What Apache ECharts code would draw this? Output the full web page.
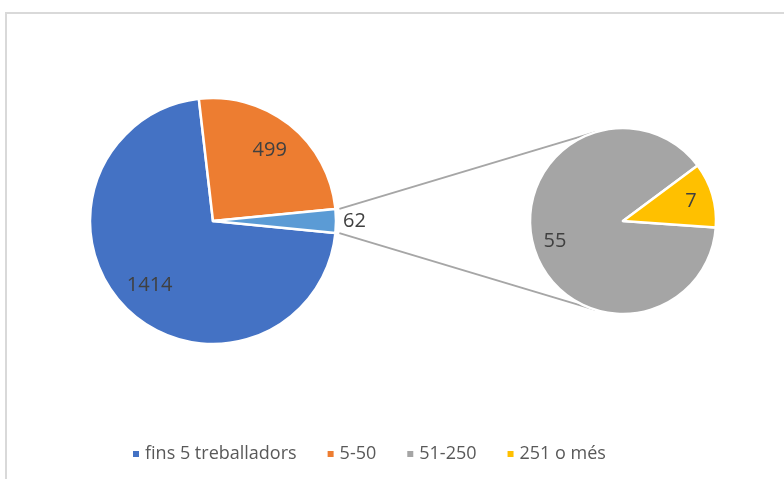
<!DOCTYPE html>
<html>
<head>
<meta charset="utf-8">
<script src="https://cdn.jsdelivr.net/npm/echarts@6/dist/echarts.min.js"></script>
<style>
  html, body { margin: 0; padding: 0; background: #fff; }
  #chart { width: 784px; height: 479px; }
</style>
</head>
<body>
<div id="chart"></div>
<script>
// main pie: the last slice is the one broken out into the small pie
var mainNames = ['fins 5 treballadors', '5-50', 'Altres'];
var mainValues = [1414, 499, 62];
var mainColors = ['#4472c4', '#ed7d31', '#5b9bd5'];

var subNames = ['51-250', '251 o més'];
var subValues = [55, 7];
var subColors = ['#a5a5a5', '#ffc000'];

var legendNames = ['fins 5 treballadors', '5-50', '51-250', '251 o més'];

var font = 'Open Sans';
var labelColor = '#404040';

// layout (px)
var mainC = [213, 221], mainR = 123;
var subC = [623, 221], subR = 93;

var total = mainValues.reduce(function(a, b) { return a + b; }, 0);
var otherDeg = mainValues[mainValues.length - 1] / total * 360;
var mainStart = -otherDeg / 2;   // centre the "other" slice on 3 o'clock

function makeData(names, values, colors) {
  return names.map(function(n, i) {
    return { name: n, value: values[i], itemStyle: { color: colors[i] } };
  });
}

function labelData(names, values, hideLast) {
  return names.map(function(n, i) {
    var d = { name: n, value: values[i] };
    if (hideLast && i === names.length - 1) d.label = { show: false };
    return d;
  });
}

// connector lines: from the edges of the "other" slice, tangent to the small pie
function tangent(p, c, r, up) {
  var dx = p[0] - c[0], dy = p[1] - c[1];
  var d = Math.sqrt(dx * dx + dy * dy);
  var base = Math.atan2(dy, dx);
  var a = Math.acos(r / d);
  var ang = up ? base + a : base - a;
  return [c[0] + r * Math.cos(ang), c[1] + r * Math.sin(ang)];
}
var half = otherDeg / 2 * Math.PI / 180;
var pTop = [mainC[0] + mainR * Math.cos(half) + 4, mainC[1] - mainR * Math.sin(half)];
var pBot = [mainC[0] + mainR * Math.cos(half) + 4, mainC[1] + mainR * Math.sin(half)];
var tTop = tangent(pTop, subC, subR, true);
var tBot = tangent(pBot, subC, subR, false);

var chart = echarts.init(document.getElementById('chart'));
chart.setOption({
  animation: false,
  backgroundColor: '#fff',
  textStyle: { fontFamily: font },
  legend: {
    data: legendNames,
    left: 126,
    top: 440,
    icon: 'rect',
    itemWidth: 8,
    itemHeight: 8,
    itemGap: 29,
    textStyle: { color: '#595959', fontSize: 18, fontFamily: font }
  },
  graphic: [
    { type: 'rect', shape: { x: 6, y: 13, width: 800, height: 500 }, style: { fill: 'none', stroke: '#d9d9d9', lineWidth: 2 }, silent: true, z: -1 },
    { type: 'line', shape: { x1: pTop[0], y1: pTop[1], x2: tTop[0], y2: tTop[1] }, style: { stroke: '#a6a6a6', lineWidth: 2 }, silent: true },
    { type: 'line', shape: { x1: pBot[0], y1: pBot[1], x2: tBot[0], y2: tBot[1] }, style: { stroke: '#a6a6a6', lineWidth: 2 }, silent: true }
  ],
  series: [
    {
      type: 'pie',
      center: mainC,
      radius: [0, mainR],
      startAngle: mainStart,
      clockwise: true,
      silent: true,
      itemStyle: { borderColor: '#fff', borderWidth: 2.5 },
      label: { show: false },
      labelLine: { show: false },
      data: makeData(mainNames, mainValues, mainColors).map(function(d, i) {
        if (i === mainNames.length - 1) {
          d.label = { show: true, position: 'outside', formatter: '{c}', color: labelColor, fontSize: 20, fontFamily: font };
          d.labelLine = { show: false, length: 2, length2: 0 };
        }
        return d;
      })
    },
    {
      // label carrier, puts the inside labels further out like Excel does
      type: 'pie',
      center: mainC,
      radius: [mainR * 0.42, mainR],
      startAngle: mainStart,
      silent: true,
      itemStyle: { color: 'transparent', borderWidth: 0 },
      label: { show: true, position: 'inside', formatter: '{c}', color: labelColor, fontSize: 20, fontFamily: font },
      data: labelData(mainNames, mainValues, true)
    },
    {
      type: 'pie',
      center: subC,
      radius: [0, subR],
      startAngle: -4,
      silent: true,
      itemStyle: { borderColor: '#fff', borderWidth: 2.5 },
      label: { show: false },
      labelLine: { show: false },
      data: makeData(subNames, subValues, subColors)
    },
    {
      type: 'pie',
      center: subC,
      radius: [subR * 0.46, subR],
      startAngle: -4,
      silent: true,
      itemStyle: { color: 'transparent', borderWidth: 0 },
      label: { show: true, position: 'inside', formatter: '{c}', color: labelColor, fontSize: 20, fontFamily: font },
      data: labelData(subNames, subValues, false)
    }
  ]
});
window.addEventListener('resize', function() { chart.resize(); });
</script>
</body>
</html>
